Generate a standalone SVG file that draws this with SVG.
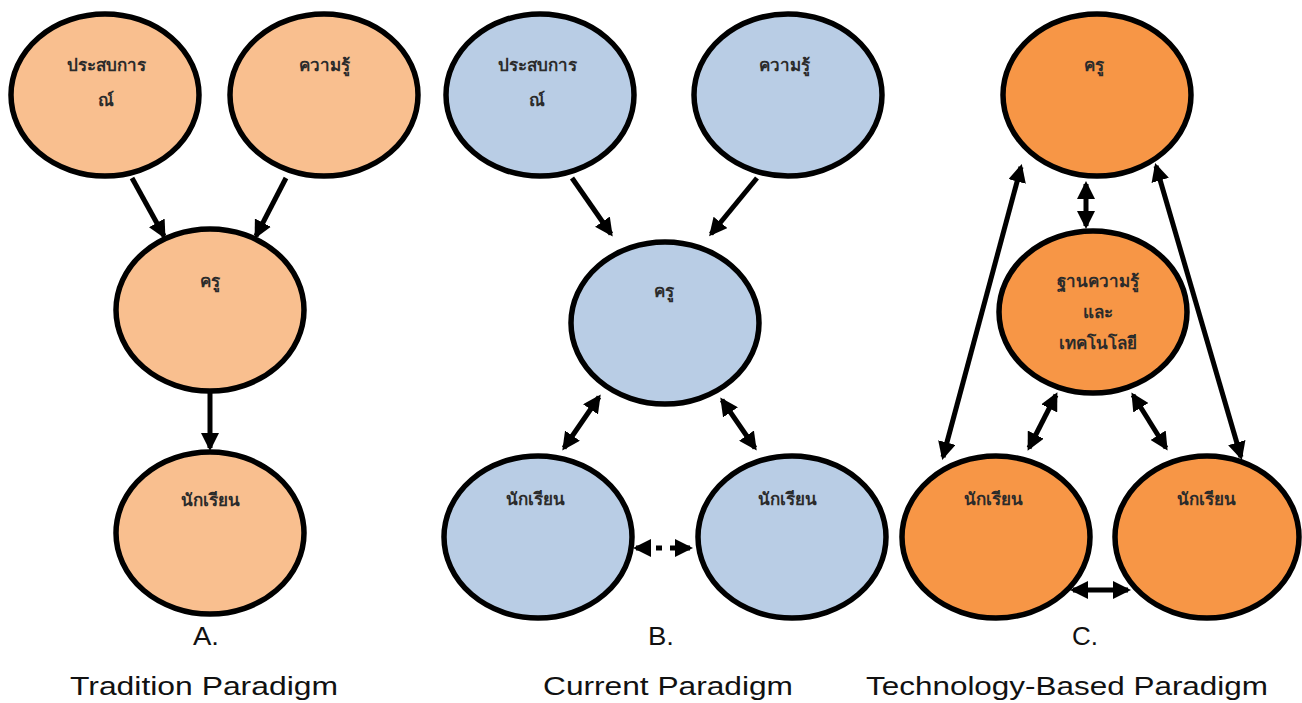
<svg xmlns="http://www.w3.org/2000/svg" width="1302" height="703" viewBox="0 0 1302 703">
  <style>
    .node { stroke: #000; stroke-width: 5.5; }
    .peach { fill: #F9BF8F; }
    .blue { fill: #B9CDE5; }
    .orange { fill: #F79646; }
    .label { font-family: "Noto Sans", "DejaVu Sans", sans-serif; font-size: 17px; font-weight: bold; fill: #2b2b2b; text-anchor: middle; }
    .caption { font-family: "Liberation Sans", Arial, sans-serif; font-size: 26px; fill: #111; text-anchor: middle; }
    .edge { stroke: #000; stroke-width: 5; fill: none; }
    .one { marker-end: url(#head); }
    .two { marker-start: url(#head); marker-end: url(#head); }
  </style>
  <defs>
    <marker id="head" markerUnits="userSpaceOnUse" viewBox="0 0 18 18" refX="15" refY="9" markerWidth="18" markerHeight="18" orient="auto-start-reverse">
      <path d="M0,0 L18,9 L0,18 z" fill="#000"/>
    </marker>
  </defs>

  <!-- connectors -->
  <g id="connectors">
    <!-- A: tradition -->
    <line class="edge one" x1="132" y1="178" x2="164" y2="236"/>
    <line class="edge one" x1="286" y1="178" x2="256" y2="236"/>
    <line class="edge one" x1="210" y1="393" x2="210" y2="448"/>
    <!-- B: current -->
    <line class="edge one" x1="572" y1="178" x2="611" y2="234"/>
    <line class="edge one" x1="757" y1="178" x2="711" y2="234"/>
    <line class="edge two" x1="564" y1="448" x2="599" y2="397"/>
    <line class="edge two" x1="755" y1="448" x2="722" y2="400"/>
    <line class="edge two" x1="636" y1="548" x2="690" y2="548" stroke-dasharray="12 8 6 8 30" stroke-width="7"/>
    <!-- C: technology-based -->
    <line class="edge two" x1="1086" y1="184" x2="1086" y2="226"/>
    <line class="edge two" x1="943" y1="457" x2="1021" y2="167"/>
    <line class="edge two" x1="1156" y1="166" x2="1241" y2="457"/>
    <line class="edge two" x1="1029" y1="448" x2="1056" y2="395"/>
    <line class="edge two" x1="1166" y1="448" x2="1133" y2="395"/>
    <line class="edge two" x1="1073" y1="590" x2="1128" y2="590"/>
  </g>

  <!-- A. Tradition Paradigm -->
  <g id="a-experience">
    <ellipse class="node peach" cx="105" cy="95" rx="94" ry="81"/>
    <text class="label" x="106" y="71">ประสบการ</text>
    <text class="label" x="106" y="106">ณ์</text>
  </g>
  <g id="a-knowledge">
    <ellipse class="node peach" cx="324" cy="95" rx="94" ry="81"/>
    <text class="label" x="324" y="71">ความรู้</text>
  </g>
  <g id="a-teacher">
    <ellipse class="node peach" cx="210" cy="310" rx="94" ry="81"/>
    <text class="label" x="210" y="287">ครู</text>
  </g>
  <g id="a-student">
    <ellipse class="node peach" cx="210" cy="533" rx="94" ry="81"/>
    <text class="label" x="210" y="506">นักเรียน</text>
  </g>

  <!-- B. Current Paradigm -->
  <g id="b-experience">
    <ellipse class="node blue" cx="540" cy="95" rx="94" ry="81"/>
    <text class="label" x="537" y="71">ประสบการ</text>
    <text class="label" x="537" y="106">ณ์</text>
  </g>
  <g id="b-knowledge">
    <ellipse class="node blue" cx="788" cy="95" rx="94" ry="81"/>
    <text class="label" x="784" y="71">ความรู้</text>
  </g>
  <g id="b-teacher">
    <ellipse class="node blue" cx="665" cy="323" rx="94" ry="81"/>
    <text class="label" x="664" y="297">ครู</text>
  </g>
  <g id="b-student-left">
    <ellipse class="node blue" cx="538" cy="537" rx="94" ry="81"/>
    <text class="label" x="535" y="505">นักเรียน</text>
  </g>
  <g id="b-student-right">
    <ellipse class="node blue" cx="792" cy="537" rx="94" ry="81"/>
    <text class="label" x="787" y="505">นักเรียน</text>
  </g>

  <!-- C. Technology-Based Paradigm -->
  <g id="c-teacher">
    <ellipse class="node orange" cx="1097" cy="95" rx="94" ry="81"/>
    <text class="label" x="1094" y="71">ครู</text>
  </g>
  <g id="c-knowledge-tech">
    <ellipse class="node orange" cx="1093" cy="312" rx="94" ry="81"/>
    <text class="label" x="1098" y="287">ฐานความรู้</text>
    <text class="label" x="1098" y="318">และ</text>
    <text class="label" x="1098" y="349">เทคโนโลยี</text>
  </g>
  <g id="c-student-left">
    <ellipse class="node orange" cx="996" cy="537" rx="94" ry="81"/>
    <text class="label" x="993" y="505">นักเรียน</text>
  </g>
  <g id="c-student-right">
    <ellipse class="node orange" cx="1207" cy="537" rx="92" ry="81"/>
    <text class="label" x="1206" y="505">นักเรียน</text>
  </g>

  <!-- captions -->
  <g id="captions">
    <text class="caption" x="206" y="645" textLength="26" lengthAdjust="spacingAndGlyphs">A.</text>
    <text class="caption" x="661" y="645" textLength="26" lengthAdjust="spacingAndGlyphs">B.</text>
    <text class="caption" x="1085" y="645" textLength="26" lengthAdjust="spacingAndGlyphs">C.</text>
    <text class="caption" x="204" y="695" textLength="268" lengthAdjust="spacingAndGlyphs">Tradition Paradigm</text>
    <text class="caption" x="668" y="695" textLength="250" lengthAdjust="spacingAndGlyphs">Current Paradigm</text>
    <text class="caption" x="1067" y="695" textLength="402" lengthAdjust="spacingAndGlyphs">Technology-Based Paradigm</text>
  </g>
</svg>
